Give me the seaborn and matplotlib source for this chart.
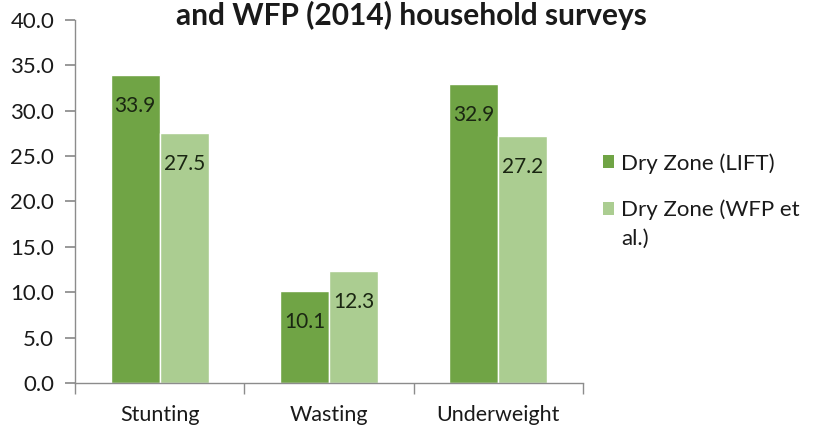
import pandas as pd
import numpy as np
import matplotlib
matplotlib.use("Agg")
import matplotlib.pyplot as plt
import seaborn as sns
from matplotlib.patches import Patch, Rectangle
from matplotlib.legend_handler import HandlerPatch

# data
indicators = ["Stunting", "Wasting", "Underweight"]
series_names = ["Dry Zone (LIFT)", "Dry Zone (WFP et\nal.)"]
lift_values = [33.9, 10.1, 32.9]
wfp_values = [27.5, 12.3, 27.2]
colors = ["#70a445", "#abcd91"]

df = pd.DataFrame({
    "indicator": indicators * 2,
    "series": [series_names[0]] * 3 + [series_names[1]] * 3,
    "value": lift_values + wfp_values,
})

sns.set_theme(style="white")
plt.rcParams["font.family"] = ["Lato", "DejaVu Sans"]

fig = plt.figure(figsize=(8.13, 4.28), dpi=100)
ax = fig.add_axes([75 / 813, 1 - 383 / 428, 508 / 813, 363 / 428])

sns.barplot(data=df, x="indicator", y="value", hue="series", order=indicators,
            hue_order=series_names, palette=colors, width=0.58, ax=ax,
            edgecolor="white", linewidth=1, saturation=1, legend=False)

# value labels inside bar tops
for patch in ax.patches:
    h = patch.get_height()
    if h <= 0:
        continue
    ax.annotate(f"{h:.1f}", (patch.get_x() + patch.get_width() / 2, h),
                xytext=(0, -22), textcoords="offset points",
                ha="center", va="center", fontsize=15, color="#1a2612")

ax.set_ylim(0, 40)
ax.set_xlim(-0.5, 2.5)
ax.set_yticks(np.arange(0, 40.1, 5))
ax.set_yticklabels([f"{v:.1f}" for v in np.arange(0, 40.1, 5)])
ax.set_xlabel("")
ax.set_ylabel("")

for s in ["top", "right"]:
    ax.spines[s].set_visible(False)
for s in ["left", "bottom"]:
    ax.spines[s].set_color("#8c8c8c")
    ax.spines[s].set_linewidth(1)

ax.tick_params(axis="y", which="major", left=True, length=7, color="#8c8c8c",
               labelsize=16, labelcolor="#1a1a1a", pad=8)
ax.tick_params(axis="x", which="major", bottom=False, labelsize=15.5,
               labelcolor="#1a1a1a", pad=10)
ax.set_xticks([-0.5, 0.5, 1.5, 2.5], minor=True)
ax.tick_params(axis="x", which="minor", bottom=True, length=8, color="#8c8c8c")


# put the square next to the first line of a wrapped label
def top_square(legend, orig_handle, xdescent, ydescent, width, height, fontsize):
    return Rectangle((-xdescent, -ydescent + 0.7 * fontsize), width, height)


handles = [Patch(facecolor=c, edgecolor="none") for c in colors]
leg = fig.legend(handles, series_names, loc="upper left",
                 bbox_to_anchor=(603 / 813, 1 - 153 / 428),
                 frameon=False, fontsize=16, handlelength=0.5, handleheight=0.5,
                 handletextpad=0.3, labelspacing=1.15, labelcolor="#1a1a1a",
                 borderpad=0, borderaxespad=0,
                 handler_map={handles[1]: HandlerPatch(patch_func=top_square)})
for t in leg.get_texts():
    t.set_linespacing(1.6)

fig.text(411 / 813, 1 - 25 / 428, "and WFP (2014) household surveys", ha="center",
         va="baseline", fontsize=21.5, fontweight="bold", color="#1a1a1a")

fig.savefig("out.png", dpi=100)
